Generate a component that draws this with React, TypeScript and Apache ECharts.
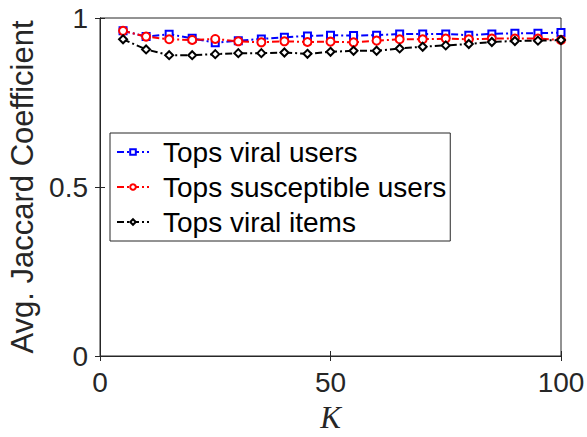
import React, { useEffect, useRef } from "react";
import * as echarts from "echarts";

const kValues = [5, 10, 15, 20, 25, 30, 35, 40, 45, 50, 55, 60, 65, 70, 75, 80, 85, 90, 95, 100];
const viralUsers = [0.962, 0.945, 0.952, 0.940, 0.927, 0.933, 0.938, 0.943, 0.947, 0.949, 0.948, 0.949, 0.953, 0.953, 0.953, 0.949, 0.953, 0.955, 0.955, 0.957];
const susceptibleUsers = [0.962, 0.945, 0.937, 0.935, 0.938, 0.931, 0.928, 0.931, 0.929, 0.930, 0.928, 0.933, 0.937, 0.937, 0.939, 0.937, 0.939, 0.939, 0.939, 0.935];
const viralItems = [0.937, 0.907, 0.890, 0.890, 0.893, 0.896, 0.896, 0.898, 0.894, 0.900, 0.903, 0.903, 0.910, 0.915, 0.919, 0.923, 0.929, 0.932, 0.933, 0.935];
const seriesNames = ["Tops viral users", "Tops susceptible users", "Tops viral items"];
const xAxisTitle = "K";
const yAxisTitle = "Avg. Jaccard Coefficient";

const axisColor = "#262626";
const font = "Liberation Sans, Arial, Helvetica, sans-serif";

export default function App() {
  const ref = useRef<HTMLDivElement>(null);
  useEffect(() => {
    if (!ref.current) return;
    const chart = echarts.init(ref.current, undefined, { renderer: "svg" });
    const dash = [7, 3, 2, 3];
    const mk = (name: string, vals: number[], color: string, symbol: string, size: number) => ({
      name,
      type: "line",
      data: kValues.map((k, i) => [k, vals[i]]),
      symbol,
      symbolSize: size,
      showSymbol: true,
      lineStyle: { color, width: 2, type: dash },
      itemStyle: { color: "#ffffff", borderColor: color, borderWidth: 2 },
      emphasis: { disabled: true },
    });
    const tickCommon = {
      show: true,
      inside: true,
      length: 5,
      lineStyle: { color: axisColor, width: 1 },
    };
    chart.setOption({
      animation: false,
      grid: {
        left: 100,
        right: 26,
        top: 18,
        bottom: 81,
        outerBoundsMode: "none",
        containLabel: false,
        show: true,
        borderColor: axisColor,
        borderWidth: 1,
        backgroundColor: "#ffffff",
      },
      legend: {
        orient: "vertical",
        left: 110,
        top: 133,
        itemWidth: 32,
        itemHeight: 7,
        itemGap: 7,
        padding: [5, 4, 5, 6],
        borderColor: axisColor,
        borderWidth: 1,
        backgroundColor: "#ffffff",
        textStyle: { fontSize: 28, fontFamily: font, color: "#000000", padding: [0, 0, 0, 9] },
        data: seriesNames,
      },
      xAxis: [
        {
          type: "value",
          min: 0,
          max: 100,
          interval: 50,
          position: "bottom",
          axisLine: { show: true, lineStyle: { color: axisColor } },
          axisTick: tickCommon,
          splitLine: { show: false },
          axisLabel: { fontSize: 28, fontFamily: font, color: axisColor, margin: 12 },
          name: xAxisTitle,
          nameLocation: "middle",
          nameGap: 46,
          nameTextStyle: {
            fontSize: 31,
            lineHeight: 31,
            fontFamily: "Liberation Serif, DejaVu Serif, serif",
            fontStyle: "italic",
            color: axisColor,
          },
        },
        {
          type: "value",
          min: 0,
          max: 100,
          interval: 50,
          position: "top",
          axisLine: { show: true, lineStyle: { color: axisColor } },
          axisTick: tickCommon,
          splitLine: { show: false },
          axisLabel: { show: false },
        },
      ],
      yAxis: [
        {
          type: "value",
          min: 0,
          max: 1,
          interval: 0.5,
          position: "left",
          axisLine: { show: true, lineStyle: { color: axisColor } },
          axisTick: tickCommon,
          splitLine: { show: false },
          axisLabel: { fontSize: 28, fontFamily: font, color: axisColor, margin: 12 },
          name: yAxisTitle,
          nameLocation: "middle",
          nameGap: 56,
          nameTextStyle: { fontSize: 31, fontFamily: font, color: axisColor },
        },
        {
          type: "value",
          min: 0,
          max: 1,
          interval: 0.5,
          position: "right",
          axisLine: { show: true, lineStyle: { color: axisColor } },
          axisTick: tickCommon,
          splitLine: { show: false },
          axisLabel: { show: false },
        },
      ],
      series: [
        mk(seriesNames[0], viralUsers, "#0000ff", "rect", 7),
        mk(seriesNames[1], susceptibleUsers, "#ff0000", "circle", 8),
        mk(seriesNames[2], viralItems, "#000000", "diamond", 8),
      ],
    });
    return () => chart.dispose();
  }, []);
  return <div ref={ref} style={{ width: 587, height: 437, position: "absolute", left: 0, top: 0, background: "#fff" }} />;
}
